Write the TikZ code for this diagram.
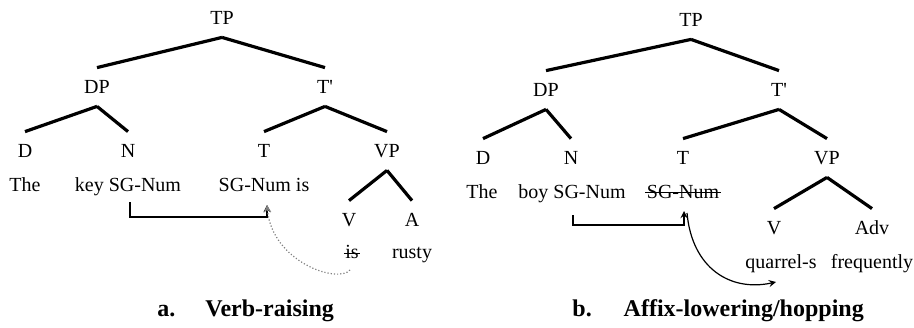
\documentclass[tikz,border=0pt]{standalone}
\usepackage{fontspec}
\setmainfont{Liberation Serif}
\usetikzlibrary{arrows}

\begin{document}
\begin{tikzpicture}[x=0.5pt, y=-0.5pt,
    cat/.style={minimum height=19pt, inner sep=1pt, text height=6.6pt, text depth=0pt, font=\fontsize{10}{12}\selectfont},
    leaf/.style={anchor=base, inner sep=0.5pt, font=\fontsize{10}{12}\selectfont},
    branch/.style={line width=1.6pt},
    strike/.style={line width=0.5pt},
    caption/.style={anchor=base west, inner sep=0pt, font=\fontsize{12}{14}\selectfont\bfseries}]
    \useasboundingbox (0,0) rectangle (914,327);

    % a. verb-raising
    \node[cat] (tpA)   at (222, 18) {TP};
    \node[cat] (dpA)   at ( 97, 87) {DP};
    \node[cat] (tbarA) at (325, 87) {T\textquotesingle};
    \node[cat] (dA)    at ( 25,151) {D};
    \node[cat] (nA)    at (128,151) {N};
    \node[cat] (tA)    at (264,151) {T};
    \node[cat] (vpA)   at (387,151) {VP};
    \node[cat] (vA)    at (349,220) {V};
    \node[cat] (aA)    at (412,220) {A};

    \node[leaf] (theA)   at ( 25,191) {The};
    \node[leaf] (keyA)   at (128,191) {key SG-Num};
    \node[leaf] (isT)    at (264,191) {SG-Num is};
    \node[leaf] (isV)    at (352,258) {is};
    \node[leaf] (rustyA) at (412,258) {rusty};
    \draw[strike] ([yshift=2.4pt]isV.base west)--([yshift=2.4pt]isV.base east);

    \draw[branch] (tpA.south)--(dpA.north);
    \draw[branch] (tpA.south)--(tbarA.north);
    \draw[branch] (dpA.south)--(dA.north);
    \draw[branch] (dpA.south)--(nA.north);
    \draw[branch] (tbarA.south)--(tA.north);
    \draw[branch] (tbarA.south)--(vpA.north);
    \draw[branch] (vpA.south)--(vA.north);
    \draw[branch] (vpA.south)--(aA.north);

    \coordinate (srcA) at (130,202);
    \coordinate (tgtA) at (267,205);
    \coordinate (curveA) at (350,270);
    \draw[->, >=stealth, line width=0.6pt] (srcA) -- ++(0,15) -| (tgtA);
    \draw[->, >=stealth, gray, densely dotted, line width=0.6pt] (curveA) .. controls (338,284) and (272,262) .. (tgtA);

    \node[caption] (capA) at (157,316) {a.\hspace{15pt}Verb-raising};

    % b. affix-lowering/hopping
    \node[cat] (tpB)   at (691, 20) {TP};
    \node[cat] (dpB)   at (546, 90) {DP};
    \node[cat] (tbarB) at (779, 90) {T\textquotesingle};
    \node[cat] (dB)    at (483,158) {D};
    \node[cat] (nB)    at (571,158) {N};
    \node[cat] (tB)    at (683,158) {T};
    \node[cat] (vpB)   at (827,158) {VP};
    \node[cat] (vB)    at (774,228) {V};
    \node[cat] (advB)  at (872,228) {Adv};

    \node[leaf] (theB)    at (482,198) {The};
    \node[leaf] (boyB)    at (572,198) {boy SG-Num};
    \node[leaf] (numB)    at (683,198) {SG-Num};
    \node[leaf] (quarrelB) at (781,268) {quarrel-s};
    \node[leaf] (freqB)   at (872,268) {frequently};
    \draw[strike] ([yshift=2.6pt]numB.base west)--([yshift=2.6pt]numB.base east);

    \draw[branch] (tpB.south)--(dpB.north);
    \draw[branch] (tpB.south)--(tbarB.north);
    \draw[branch] (dpB.south)--(dB.north);
    \draw[branch] (dpB.south)--(nB.north);
    \draw[branch] (tbarB.south)--(tB.north);
    \draw[branch] (tbarB.south)--(vpB.north);
    \draw[branch] (vpB.south)--(vB.north);
    \draw[branch] (vpB.south)--(advB.north);

    \coordinate (srcB) at (573,215);
    \coordinate (tgtB) at (684,211);
    \coordinate (startB) at (687,213);
    \coordinate (endB) at (776,282);
    \draw[->, >=stealth, line width=0.6pt] (srcB) -- ++(0,10) -| (tgtB);
    \draw[->, >=stealth, line width=0.6pt] (startB) .. controls (692,268) and (730,292) .. (endB);

    \node[caption] (capB) at (572,316) {b.\hspace{16pt}Affix-lowering/hopping};
\end{tikzpicture}
\end{document}
